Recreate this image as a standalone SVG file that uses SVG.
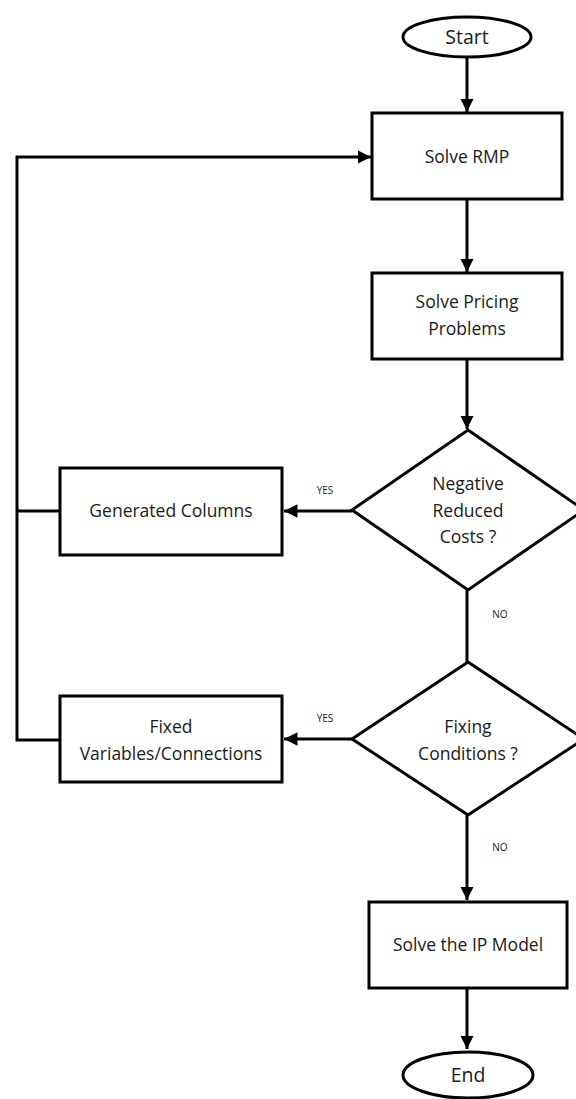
<svg xmlns="http://www.w3.org/2000/svg" width="576" height="1099" viewBox="0 0 576 1099">
<style>
.s{fill:#fff;stroke:#000;stroke-width:3}
.t{font-family:"Open Sans","Noto Sans",sans-serif;font-size:17.5px;fill:#1a1a1a;text-anchor:middle}
.l{font-family:"Open Sans","Noto Sans",sans-serif;font-size:10px;fill:#1a1a1a;text-anchor:middle}
.c{fill:none;stroke:#000;stroke-width:3}
</style>
<defs>
<marker id="a" viewBox="0 0 10 10" refX="10" refY="5" markerWidth="4.5" markerHeight="4.5" orient="auto" markerUnits="strokeWidth">
<path d="M0,0 L10,5 L0,10 z" fill="#000"/>
</marker>
</defs>
<rect width="576" height="1099" fill="#fff"/>
<g id="connectors">
<path class="c" d="M467,57 V112" marker-end="url(#a)"/>
<path class="c" d="M467,199 V272" marker-end="url(#a)"/>
<path class="c" d="M467,359 V429" marker-end="url(#a)"/>
<path class="c" d="M352,511 H284" marker-end="url(#a)"/>
<path class="c" d="M467,590 V662"/>
<path class="c" d="M352,739 H284" marker-end="url(#a)"/>
<path class="c" d="M467,815 V900" marker-end="url(#a)"/>
<path class="c" d="M467,988 V1049" marker-end="url(#a)"/>
<path class="c" d="M60,740 H17 V157 H371" marker-end="url(#a)"/>
<path class="c" d="M60,511 H17"/>
<text class="l" x="325" y="494">YES</text>
<text class="l" x="325" y="722">YES</text>
<text class="l" x="500" y="618">NO</text>
<text class="l" x="500" y="851">NO</text>
</g>
<g id="start">
<ellipse class="s" cx="467" cy="37" rx="64" ry="20"/>
<text class="t" x="467" y="44" style="font-size:19.5px">Start</text>
</g>
<g id="solve-rmp">
<rect class="s" x="372" y="113" width="190" height="86"/>
<text class="t" x="467" y="163">Solve RMP</text>
</g>
<g id="solve-pricing">
<rect class="s" x="372" y="273" width="190" height="86"/>
<text class="t" x="467" y="308">Solve Pricing</text>
<text class="t" x="467" y="335">Problems</text>
</g>
<g id="negative-reduced-costs">
<polygon class="s" points="468,430 584,510 468,590 352,510"/>
<text class="t" x="468" y="490">Negative</text>
<text class="t" x="468" y="517">Reduced</text>
<text class="t" x="468" y="543">Costs ?</text>
</g>
<g id="generated-columns">
<rect class="s" x="60" y="468" width="222" height="87"/>
<text class="t" x="171" y="517">Generated Columns</text>
</g>
<g id="fixing-conditions">
<polygon class="s" points="468,662 584,739 468,815 352,739"/>
<text class="t" x="468" y="733">Fixing</text>
<text class="t" x="468" y="760">Conditions ?</text>
</g>
<g id="fixed-variables">
<rect class="s" x="60" y="696" width="222" height="86"/>
<text class="t" x="171" y="733">Fixed</text>
<text class="t" x="171" y="760">Variables/Connections</text>
</g>
<g id="solve-ip">
<rect class="s" x="369" y="902" width="198" height="86"/>
<text class="t" x="468" y="951">Solve the IP Model</text>
</g>
<g id="end">
<ellipse class="s" cx="468" cy="1075" rx="65" ry="23"/>
<text class="t" x="468" y="1082" style="font-size:19.5px">End</text>
</g>
</svg>
